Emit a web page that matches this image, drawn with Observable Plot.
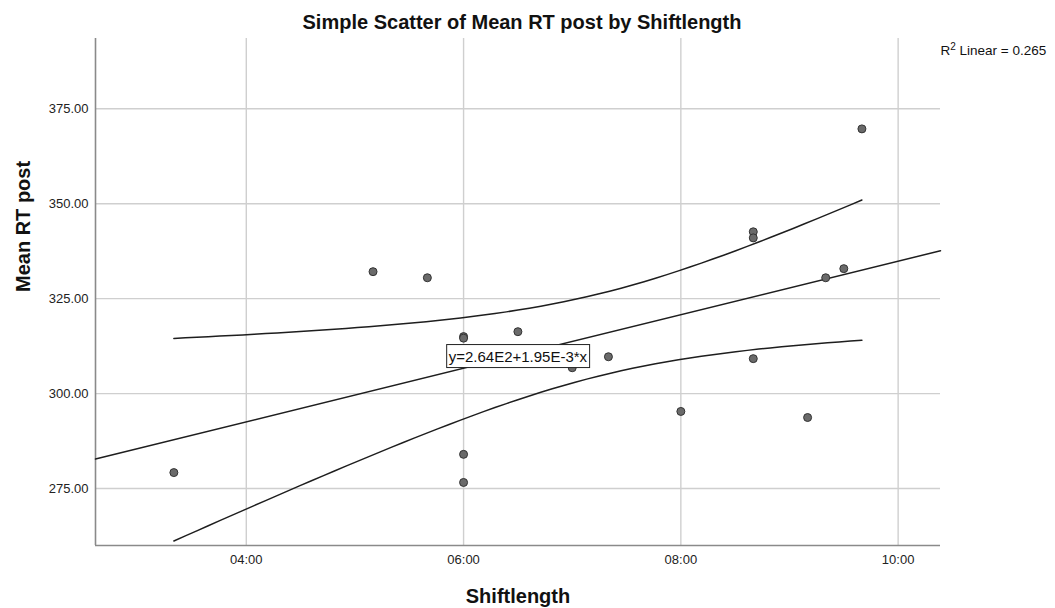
<!DOCTYPE html>
<html>
<head>
<meta charset="utf-8">
<script src="https://cdn.jsdelivr.net/npm/d3@7"></script>
<script src="https://cdn.jsdelivr.net/npm/@observablehq/plot@0.6"></script>
<style>
  html, body { margin: 0; padding: 0; background: #fff; }
  body { width: 1055px; height: 608px; overflow: hidden; font-family: "Liberation Sans", Arial, sans-serif; }
  #title { height: 38px; box-sizing: border-box; padding-top: 10px; padding-right: 11px;
           font: bold 20px "Liberation Sans", Arial, sans-serif; line-height: 24px;
           text-align: center; color: #111; white-space: nowrap; }
  svg { display: block; }
</style>
</head>
<body>
<div id="title"></div>
<div id="chart"></div>
<script>
// ---- data ----
const chartTitle = "Simple Scatter of Mean RT post by Shiftlength";
const xLabel = "Shiftlength";
const yLabel = "Mean RT post";
const r2Label = "R2 Linear = 0.265";
const eqLabel = "y=2.64E2+1.95E-3*x";

const shiftLength = ["03:20", "05:10", "05:40", "06:00", "06:00", "06:00", "06:00", "06:30", "07:00",
                     "07:20", "08:00", "08:40", "08:40", "08:40", "09:10", "09:20", "09:30", "09:40"];
const meanRTpost  = [279.2, 332.1, 330.5, 315.0, 314.6, 284.0, 276.6, 316.3, 306.8,
                     309.7, 295.3, 342.6, 341.0, 309.2, 293.7, 330.5, 332.9, 369.7];

const xTicks = [4, 6, 8, 10];
const yTicks = [275, 300, 325, 350, 375];

// ---- derived ----
const toHours = s => { const [h, m] = s.split(":").map(Number); return h + m / 60; };
const fmtHM = v => { const h = Math.floor(v + 1e-9), m = Math.round((v - h) * 60);
  return String(h).padStart(2, "0") + ":" + String(m).padStart(2, "0"); };
const pts = shiftLength.map((s, i) => ({x: toHours(s), y: meanRTpost[i]}));

// least squares fit and 95% mean confidence interval
const n = pts.length;
const mx = d3.mean(pts, d => d.x), my = d3.mean(pts, d => d.y);
const sxx = d3.sum(pts, d => (d.x - mx) ** 2);
const sxy = d3.sum(pts, d => (d.x - mx) * (d.y - my));
const slope = sxy / sxx, intercept = my - slope * mx;
const sse = d3.sum(pts, d => (d.y - intercept - slope * d.x) ** 2);
const s = Math.sqrt(sse / (n - 2));
const tcrit = 2.1199; // t(0.975, df=16)
const [xmin, xmax] = d3.extent(pts, d => d.x);
const ciSamples = d3.range(0, 61).map(i => xmin + (xmax - xmin) * i / 60);
const ciUpper = ciSamples.map(x => ({x, y: intercept + slope * x + tcrit * s * Math.sqrt(1 / n + (x - mx) ** 2 / sxx)}));
const ciLower = ciSamples.map(x => ({x, y: intercept + slope * x - tcrit * s * Math.sqrt(1 / n + (x - mx) ** 2 / sxx)}));

const xDomain = [2.612, 10.39];
const yDomain = [260, 393.5];
const fitLine = xDomain.map(x => ({x, y: intercept + slope * x}));

document.getElementById("title").textContent = chartTitle;

const gridColor = "#cfcfcf";
const axisColor = "#8a8a8a";
const lineColor = "#1e1e1e";

const chart = Plot.plot({
  width: 1055,
  height: 570,
  marginTop: 0,
  marginLeft: 95,
  marginRight: 115,
  marginBottom: 63,
  style: {fontFamily: "'Liberation Sans', Arial, sans-serif", fontSize: "13px", color: "#222", background: "#fff", overflow: "visible"},
  x: {domain: xDomain},
  y: {domain: yDomain},
  marks: [
    Plot.gridX(xTicks, {stroke: gridColor, strokeOpacity: 1, strokeWidth: 1.4}),
    Plot.gridY(yTicks, {stroke: gridColor, strokeOpacity: 1, strokeWidth: 1.4}),
    Plot.axisX(xTicks, {tickSize: 0, tickPadding: 9, tickFormat: fmtHM, label: null, fontSize: 13}),
    Plot.axisY(yTicks, {tickSize: 0, tickPadding: 7, tickFormat: d3.format(".2f"), label: null, fontSize: 13}),
    Plot.ruleX([xDomain[0]], {stroke: axisColor, strokeWidth: 1.6}),
    Plot.ruleY([yDomain[0]], {stroke: axisColor, strokeWidth: 1.6}),
    Plot.line(ciUpper, {x: "x", y: "y", stroke: lineColor, strokeWidth: 1.5, curve: "linear"}),
    Plot.line(ciLower, {x: "x", y: "y", stroke: lineColor, strokeWidth: 1.5, curve: "linear"}),
    Plot.line(fitLine, {x: "x", y: "y", stroke: lineColor, strokeWidth: 1.5}),
    Plot.dot(pts, {x: "x", y: "y", r: 4, fill: "#6a6a6a", stroke: "#333", strokeWidth: 1}),
    Plot.text([eqLabel], {x: () => 6.5, y: () => 309.7, fontSize: 15, fill: "#111", textAnchor: "middle", lineAnchor: "middle"}),
    Plot.text([r2Label], {frameAnchor: "top-right", dy: 12, textAnchor: "start", lineAnchor: "middle", fontSize: 13.5, fill: "#111"}),
    Plot.text([xLabel], {frameAnchor: "bottom", dy: 51, fontSize: 20, fontWeight: "bold", fill: "#111", lineAnchor: "middle"}),
    Plot.text([yLabel], {frameAnchor: "left", dx: -72, rotate: -90, fontSize: 20, fontWeight: "bold", fill: "#111", lineAnchor: "middle"})
  ]
});
document.getElementById("chart").append(chart);

const SVGNS = "http://www.w3.org/2000/svg";
for (const t of chart.querySelectorAll("text")) {
  // white box with border behind the equation label
  if (t.textContent === eqLabel) {
    const b = t.getBBox();
    const rect = document.createElementNS(SVGNS, "rect");
    rect.setAttribute("x", b.x - 2);
    rect.setAttribute("y", b.y - 3);
    rect.setAttribute("width", b.width + 4);
    rect.setAttribute("height", b.height + 6);
    rect.setAttribute("fill", "#fff");
    rect.setAttribute("stroke", "#222");
    rect.setAttribute("stroke-width", "1");
    const tr = t.getAttribute("transform");
    if (tr) rect.setAttribute("transform", tr);
    t.parentNode.insertBefore(rect, t);
  }
  // superscript 2 in the R-squared label
  if (t.textContent === r2Label) {
    const rest = r2Label.slice(2);
    t.textContent = "";
    const a = document.createElementNS(SVGNS, "tspan"); a.textContent = "R";
    const sup = document.createElementNS(SVGNS, "tspan"); sup.textContent = "2";
    sup.setAttribute("font-size", "10px"); sup.setAttribute("dy", "-5");
    const c = document.createElementNS(SVGNS, "tspan"); c.textContent = rest;
    c.setAttribute("dy", "5");
    t.append(a, sup, c);
  }
}
</script>
</body>
</html>
